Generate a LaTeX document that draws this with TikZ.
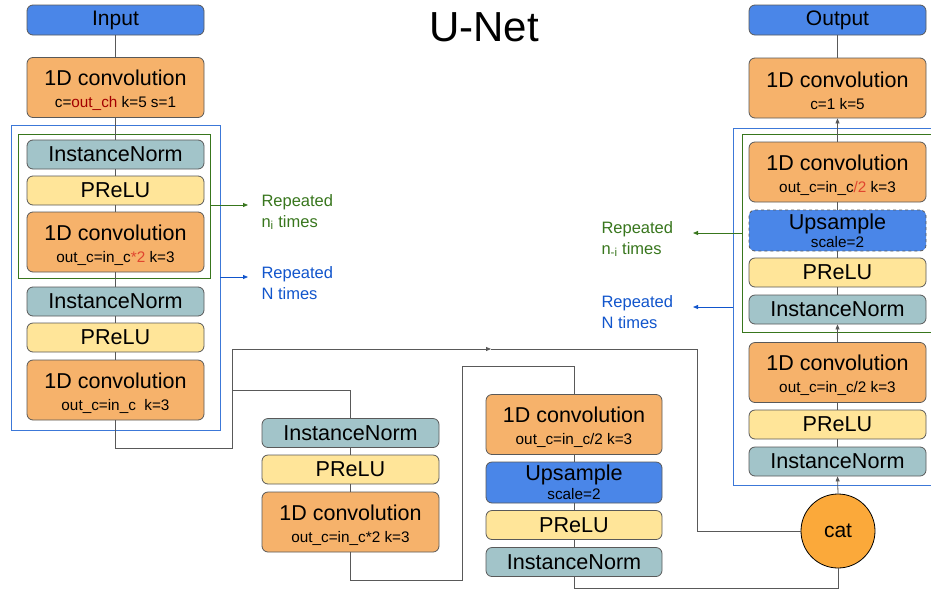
\documentclass[tikz,border=0pt]{standalone}
\usepackage{fontspec}
\setmainfont{Liberation Sans}
\usetikzlibrary{arrows.meta}

\definecolor{cblue}{HTML}{4A86E8}
\definecolor{corange}{HTML}{F6B26B}
\definecolor{cteal}{HTML}{A2C4C9}
\definecolor{cyellow}{HTML}{FFE599}
\definecolor{ccat}{HTML}{FBA93A}
\definecolor{cline}{HTML}{595959}
\definecolor{cgreen}{HTML}{38761D}
\definecolor{cframe}{HTML}{3C78D8}
\definecolor{clabel}{HTML}{1155CC}
\definecolor{dred}{HTML}{A30000}
\definecolor{lred}{HTML}{E0452F}

% second, smaller line inside a block
\newcommand{\sub}[1]{{\fontsize{15.3}{15}\selectfont #1}}
% two-line block text: title over parameters
\newcommand{\twoline}[2]{\rule{0pt}{21.5pt}#1\\[1pt]\sub{#2}}

\begin{document}
\begin{tikzpicture}[x=1pt,y=-1pt,
  blk/.style={draw=cline, line width=0.8pt, rounded corners=6pt,
    minimum width=177pt, inner sep=0pt, align=center,
    font=\fontsize{21.6}{21}\selectfont},
  normbox/.style={blk, fill=cteal, minimum height=29pt},
  prelubox/.style={blk, fill=cyellow, minimum height=29pt},
  convbox/.style={blk, fill=corange, minimum height=60pt,
    font=\fontsize{21.5}{21}\selectfont},
  iobox/.style={blk, fill=cblue, minimum height=30pt,
    font=\fontsize{21}{21}\selectfont},
  upbox/.style={blk, fill=cblue, minimum height=41pt},
  wire/.style={draw=cline, line width=0.8pt},
  tip/.style={-{Triangle[length=5pt,width=4pt]}},
  rep/.style={anchor=west, align=left, font=\fontsize{16.5}{21}\selectfont},
]
\useasboundingbox (0,0) rectangle (931,592);

% title
\node[font=\fontsize{42}{42}\selectfont] (title) at (484,27) {U-Net};

% repetition frames, left
\draw[cframe, line width=0.9pt] (11,125) rectangle (220,430);
\draw[cgreen, line width=0.9pt] (18,134) rectangle (210,278);
% repetition frames, right (open to the page edge)
\draw[cframe, line width=0.9pt] (932,128) -- (733,128) -- (733,485) -- (932,485);
\draw[cgreen, line width=0.9pt] (932,134) -- (742,134) -- (742,332) -- (932,332);

% encoder column
\node[iobox] (inp) at (115.5,20) {Input};
\node[convbox] (lconv0) at (115.5,87.5) {\twoline{1D convolution}{c=\textcolor{dred}{out\_ch} k=5 s=1}};
\node[normbox] (lin1) at (115.5,154.5) {InstanceNorm};
\node[prelubox] (lpr1) at (115.5,190.5) {PReLU};
\node[convbox] (lconv1) at (115.5,242) {\twoline{1D convolution}{out\_c=in\_c\textcolor{lred}{*2} k=3}};
\node[normbox] (lin2) at (115.5,301.5) {InstanceNorm};
\node[prelubox] (lpr2) at (115.5,337.5) {PReLU};
\node[convbox] (lconv2) at (115.5,390) {\twoline{1D convolution}{out\_c=in\_c\ \ k=3}};

% bottleneck, down part
\node[normbox] (min) at (350.5,433) {InstanceNorm};
\node[prelubox] (mpr) at (350.5,469.5) {PReLU};
\node[convbox] (mconv) at (350.5,522) {\twoline{1D convolution}{out\_c=in\_c*2 k=3}};

% bottleneck, up part
\node[convbox, minimum width=176pt] (uconv) at (574,424.5) {\twoline{1D convolution}{out\_c=in\_c/2 k=3}};
\node[upbox, minimum width=176pt] (uup) at (574,482.5) {Upsample\\[-2pt]\sub{scale=2}};
\node[prelubox, minimum width=176pt] (upr) at (574,525) {PReLU};
\node[normbox, minimum width=176pt] (uin) at (574,562) {InstanceNorm};

% decoder column
\node[iobox] (out) at (837.5,20) {Output};
\node[convbox] (rconv0) at (837.5,88) {\twoline{1D convolution}{c=1 k=5}};
\node[convbox] (rconv1) at (837.5,172) {\twoline{1D convolution}{out\_c=in\_c\textcolor{lred}{/2} k=3}};
\node[upbox, dashed] (rup) at (837.5,230.5) {Upsample\\[-3pt]\sub{scale=2}};
\node[prelubox] (rpr1) at (837.5,272.5) {PReLU};
\node[normbox] (rin1) at (837.5,309.5) {InstanceNorm};
\node[convbox] (rconv2) at (837.5,372.5) {\twoline{1D convolution}{out\_c=in\_c/2 k=3}};
\node[prelubox] (rpr2) at (837.5,424.5) {PReLU};
\node[normbox] (rin2) at (837.5,461.5) {InstanceNorm};

\node[circle, draw=black, line width=0.8pt, fill=ccat, minimum size=74pt,
  inner sep=0pt, font=\fontsize{21}{21}\selectfont] (cat) at (838,531) {cat};

% repetition labels
\node[rep, text=cgreen] (lrepn) at (258,212) {Repeated\\n\textsubscript{i} times};
\node[rep, text=clabel] (lrepN) at (258,283) {Repeated\\N times};
\node[rep, text=cgreen] (rrepn) at (598,239) {Repeated\\n\textsubscript{-i} times};
\node[rep, text=clabel] (rrepN) at (598,312) {Repeated\\N times};

\coordinate (gl) at (210,205);
\coordinate (glt) at (248,205);
\coordinate (bl) at (220,277);
\coordinate (blt) at (248,277);
\coordinate (gr) at (742,233);
\coordinate (grt) at (693,233);
\coordinate (br) at (733,307);
\coordinate (brt) at (693,307);
\draw[cgreen, line width=0.8pt, tip] (gl) -- (glt);
\draw[clabel, line width=0.8pt, tip] (bl) -- (blt);
\draw[cgreen, line width=0.8pt, tip] (gr) -- (grt);
\draw[clabel, line width=0.8pt, tip] (br) -- (brt);

% encoder chain
\draw[wire] (inp) -- (lconv0) -- (lin1) -- (lpr1) -- (lconv1) -- (lin2) -- (lpr2) -- (lconv2);

% split after the encoder: skip path and path into the bottleneck
\coordinate (sA) at (115.5,448);
\coordinate (sB) at (232,448);
\coordinate (sC) at (232,349);
\coordinate (sM) at (491,349);
\coordinate (sD) at (697,349);
\coordinate (bA) at (232,390);
\draw[wire] (lconv2.south) -- (sA) -- (sB) -- (sC);
\draw[wire, tip] (sC) -- (sM);
\draw[wire] (sM) -- (sD) |- (cat.west);
\draw[wire] (bA) -| (min.north);

% bottleneck chain
\draw[wire] (min) -- (mpr) -- (mconv);
\coordinate (dB) at (462,580);
\coordinate (dC) at (462,366);
\coordinate (dD) at (574,366);
\draw[wire] (mconv.south) |- (dB) -- (dC) -- (dD) -- (uconv.north);
\draw[wire] (uconv) -- (uup) -- (upr) -- (uin);
\coordinate (eA) at (838,588);
\draw[wire] (uin.south) |- (eA) -- (cat.south);

% decoder chain
\draw[wire, tip] (cat.north) -- (rin2.south);
\draw[wire] (rin2) -- (rpr2) -- (rconv2);
\draw[wire, tip] (rconv2.north) -- (rin1.south);
\draw[wire] (rin1) -- (rpr1) -- (rup) -- (rconv1);
\draw[wire, tip] (rconv1.north) -- (rconv0.south);
\draw[wire] (rconv0) -- (out);
\end{tikzpicture}
\end{document}
